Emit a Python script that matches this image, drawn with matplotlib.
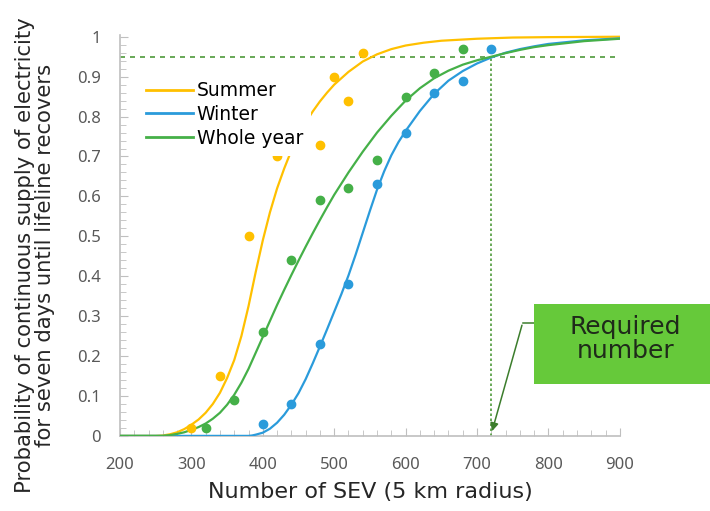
import matplotlib as mpl

mpl.use("Agg")
import matplotlib.pyplot as plt
from matplotlib.patches import Rectangle
from matplotlib.ticker import MultipleLocator

plt.rcParams["font.family"] = ["DejaVu Sans"]

# fitted curves (probability vs. number of SEV)
SUMMER_X = [200, 250, 260, 270, 280, 290, 300, 310, 320, 330, 340, 350, 360, 370, 380, 390, 400,
            410, 420, 430, 440, 450, 460, 470, 480, 490, 500, 520, 540, 560, 580, 600, 625, 650,
            700, 750, 800, 900]
SUMMER_Y = [0.0, 0.0, 0.001, 0.004, 0.009, 0.017, 0.028, 0.041, 0.058, 0.08, 0.108, 0.145, 0.19, 0.25,
            0.325, 0.41, 0.49, 0.56, 0.62, 0.67, 0.715, 0.752, 0.785, 0.813, 0.838, 0.86, 0.88, 0.912,
            0.938, 0.956, 0.969, 0.978, 0.985, 0.99, 0.995, 0.998, 0.999, 1.0]

WINTER_X = [200, 380, 385, 390, 400, 410, 420, 430, 440, 450, 460, 470, 480, 490, 500, 510, 520,
            530, 540, 550, 560, 570, 580, 590, 600, 620, 640, 660, 680, 700, 720, 740, 760, 780,
            800, 850, 900]
WINTER_Y = [0.0, 0.0, 0.001, 0.003, 0.008, 0.018, 0.033, 0.053, 0.078, 0.107, 0.142, 0.182, 0.224,
            0.267, 0.311, 0.355, 0.402, 0.454, 0.509, 0.564, 0.617, 0.663, 0.703, 0.736, 0.764, 0.814,
            0.857, 0.89, 0.914, 0.933, 0.948, 0.96, 0.969, 0.976, 0.982, 0.991, 0.996]

YEAR_X = [200, 260, 270, 280, 290, 300, 310, 320, 330, 340, 350, 360, 370, 380, 390, 400, 410,
          420, 430, 440, 450, 460, 470, 480, 490, 500, 520, 540, 560, 580, 600, 620, 640, 660,
          680, 700, 720, 740, 760, 780, 800, 850, 900]
YEAR_Y = [0.0, 0.0, 0.002, 0.005, 0.009, 0.015, 0.022, 0.031, 0.043, 0.058, 0.078, 0.103, 0.133, 0.168,
          0.208, 0.248, 0.288, 0.328, 0.366, 0.403, 0.439, 0.474, 0.508, 0.541, 0.573, 0.604, 0.66,
          0.712, 0.76, 0.802, 0.84, 0.871, 0.896, 0.915, 0.93, 0.941, 0.95, 0.959, 0.967, 0.974,
          0.979, 0.989, 0.995]

# observed points
SUMMER_PTS_X = [300, 340, 380, 420, 480, 500, 520, 540]
SUMMER_PTS_Y = [0.02, 0.15, 0.50, 0.70, 0.73, 0.90, 0.84, 0.96]
WINTER_PTS_X = [400, 440, 480, 520, 560, 600, 640, 680, 720]
WINTER_PTS_Y = [0.03, 0.08, 0.23, 0.38, 0.63, 0.76, 0.86, 0.89, 0.97]
YEAR_PTS_X = [320, 360, 400, 440, 480, 520, 560, 600, 640, 680]
YEAR_PTS_Y = [0.02, 0.09, 0.26, 0.44, 0.59, 0.62, 0.69, 0.85, 0.91, 0.97]

TARGET_PROB = 0.95
REQUIRED_SEV = 720

YELLOW = "#FFC000"
BLUE = "#2A9BDB"
GREEN = "#45B048"
REF_GREEN = "#4E9A3A"
ARROW_GREEN = "#3C7D2C"

fig = plt.figure(figsize=(7.1, 5.11), dpi=100)
ax = fig.add_axes([0.169, 0.147, 0.704, 0.785])

ax.plot(SUMMER_X, SUMMER_Y, color=YELLOW, lw=1.6, label="Summer", zorder=3)
ax.plot(WINTER_X, WINTER_Y, color=BLUE, lw=1.6, label="Winter", zorder=3)
ax.plot(YEAR_X, YEAR_Y, color=GREEN, lw=1.6, label="Whole year", zorder=3)

ax.plot(SUMMER_PTS_X, SUMMER_PTS_Y, "o", color=YELLOW, ms=6, zorder=4)
ax.plot(WINTER_PTS_X, WINTER_PTS_Y, "o", color=BLUE, ms=6, zorder=4)
ax.plot(YEAR_PTS_X, YEAR_PTS_Y, "o", color=GREEN, ms=6, zorder=4)

ax.axhline(TARGET_PROB, color=REF_GREEN, lw=1.2, ls=(0, (3, 3)), zorder=2)
ax.plot([REQUIRED_SEV, REQUIRED_SEV], [0, TARGET_PROB], color=REF_GREEN, lw=1.2,
        ls=(0, (1.5, 1.5)), zorder=2)

# leader from the callout box down to the required number
ax.plot([782, 764], [0.284, 0.284], color=ARROW_GREEN, lw=1.1, clip_on=False)
ax.annotate("", xy=(REQUIRED_SEV, 0.005), xytext=(764, 0.284),
            arrowprops=dict(arrowstyle="-|>", color=ARROW_GREEN, lw=1.1, mutation_scale=12),
            annotation_clip=False)

ax.set_xlim(200, 900)
ax.set_ylim(0, 1.005)
ax.xaxis.set_major_locator(MultipleLocator(100))
ax.xaxis.set_minor_locator(MultipleLocator(20))
ax.yaxis.set_minor_locator(MultipleLocator(0.02))
ax.set_yticks([i / 10 for i in range(11)])
ax.set_yticklabels(["0", "0.1", "0.2", "0.3", "0.4", "0.5", "0.6", "0.7", "0.8", "0.9", "1"])

for side in ("top", "right"):
    ax.spines[side].set_visible(False)
for side in ("left", "bottom"):
    ax.spines[side].set_color("#BFBFBF")
    ax.spines[side].set_linewidth(1.2)
ax.tick_params(which="both", direction="in", color="#BFBFBF", labelcolor="#595959")
ax.tick_params(which="minor", length=4)
ax.tick_params(axis="x", which="major", length=6, pad=15)
ax.tick_params(axis="y", which="major", length=6, pad=14)
for lbl in ax.get_xticklabels() + ax.get_yticklabels():
    lbl.set_fontfamily("Noto Sans")
    lbl.set_fontsize(12)

ax.set_xlabel("Number of SEV (5 km radius)", fontsize=16, color="#262626", labelpad=7)
ax.set_ylabel("Probability of continuous supply of electricity\nfor seven days until lifeline recovers",
              fontsize=15.2, color="#262626", linespacing=1.0)
ax.yaxis.set_label_coords(-0.13, 0.45)

leg = ax.legend(loc="upper left", bbox_to_anchor=(0.035, 0.905), fontsize=13.5, frameon=True,
                handlelength=2.5, handletextpad=0.2, labelspacing=0.25, borderpad=0.45,
                borderaxespad=0.0)
leg.get_frame().set_edgecolor("none")
leg.get_frame().set_facecolor("white")
leg.get_frame().set_alpha(1.0)
leg.get_frame().set_boxstyle("square", pad=0.0)
leg.set_zorder(5)
for line in leg.get_lines():
    line.set_linewidth(2.0)

box = Rectangle((0.752, 0.249), 0.26, 0.157, transform=fig.transFigure,
                facecolor="#66C93A", edgecolor="none")
fig.patches.append(box)
fig.text(0.881, 0.336, "Required\nnumber", ha="center", va="center", fontsize=18,
         color="#1F2A1A", linespacing=1.0)

fig.savefig("out.png", dpi=100)
plt.close(fig)
